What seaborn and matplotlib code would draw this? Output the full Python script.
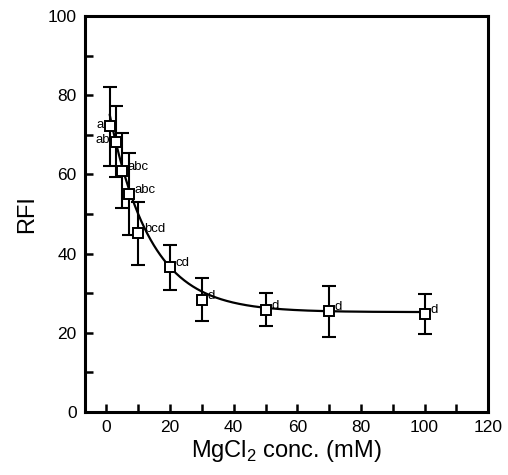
import numpy as np
import pandas as pd
import seaborn as sns
import matplotlib.pyplot as plt

# MgCl2 data
conc = [1, 3, 5, 7, 10, 20, 30, 50, 70, 100]
rfi = [72.2, 68.3, 60.9, 55.0, 45.1, 36.5, 28.3, 25.8, 25.4, 24.7]
sd = [10.0, 9.0, 9.5, 10.4, 8.0, 5.7, 5.4, 4.2, 6.5, 5.1]
letters = ['a', 'ab', 'abc', 'abc', 'bcd', 'cd', 'd', 'd', 'd', 'd']

# exponential decay fit  y = y0 + A*exp(-k*x)
y0, amp, k = 25.2, 54.0, 0.078

df = pd.DataFrame({'conc': conc, 'rfi': rfi, 'sd': sd, 'label': letters})

sns.set_style('ticks', {'axes.edgecolor': 'black', 'text.color': 'black',
                        'xtick.color': 'black', 'ytick.color': 'black',
                        'axes.labelcolor': 'black'})
plt.rcParams['font.family'] = ['Liberation Sans', 'DejaVu Sans']

fig = plt.figure(figsize=(5.08, 4.75), dpi=100)
ax = fig.add_axes([0.167, 0.133, 0.794, 0.833])

xfit = np.linspace(1, 100, 300)
fit_df = pd.DataFrame({'conc': xfit, 'rfi': y0 + amp * np.exp(-k * xfit)})
sns.lineplot(data=fit_df, x='conc', y='rfi', color='black', linewidth=1.6, ax=ax)

ax.errorbar(df['conc'], df['rfi'], yerr=df['sd'], fmt='none', ecolor='black',
            elinewidth=1.5, capsize=5, capthick=1.5, zorder=3)
ax.plot(df['conc'], df['rfi'], 's', ms=6.5, mfc='white', mec='black', mew=1.4, zorder=4)

for i, row in df.iterrows():
    if i < 2:
        ax.annotate(row['label'], (row['conc'], row['rfi']), xytext=(-4, 1),
                    textcoords='offset points', ha='right', va='center', fontsize=9.5)
    else:
        ax.annotate(row['label'], (row['conc'], row['rfi']), xytext=(4, 3),
                    textcoords='offset points', ha='left', va='center', fontsize=9.5)

ax.set_xlim(-6.8, 120)
ax.set_ylim(0, 100)
ax.set_xticks(range(0, 121, 20))
ax.set_xticks(range(10, 120, 20), minor=True)
ax.set_yticks(range(0, 101, 20))
ax.set_yticks(range(10, 100, 20), minor=True)
ax.tick_params(which='both', direction='in', length=6, width=1.8, labelsize=12.5)
ax.tick_params(axis='x', pad=6)
ax.tick_params(axis='y', pad=6)

for s in ax.spines.values():
    s.set_linewidth(2.2)

ax.set_xlabel('MgCl$_\\mathregular{2}$ conc. (mM)', fontsize=17, labelpad=2)
ax.set_ylabel('RFI', fontsize=17, labelpad=7)

fig.savefig('out.png', dpi=100)
